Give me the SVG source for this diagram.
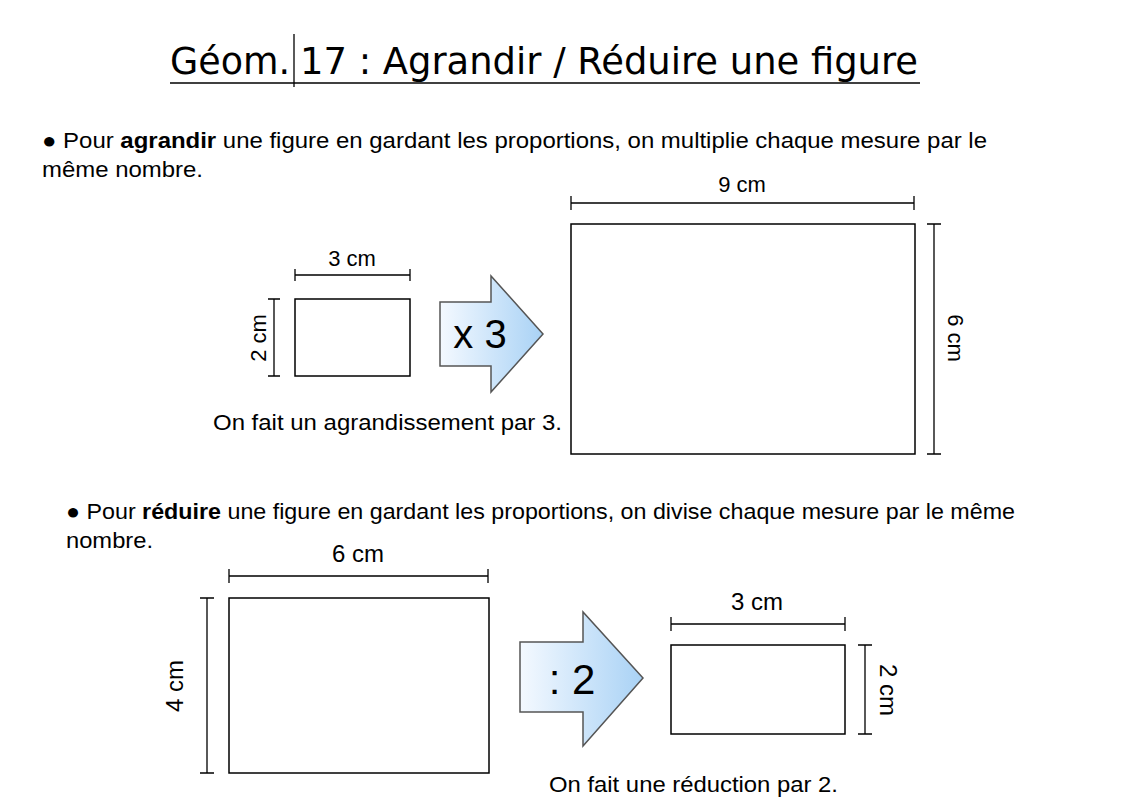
<svg xmlns="http://www.w3.org/2000/svg" width="1148" height="812" viewBox="0 0 1148 812">
<style>
text{font-family:"Liberation Sans",Arial,sans-serif;fill:#000}
.t{font-size:22px}
.ti{font-family:"Comic Sans MS","DejaVu Sans",sans-serif;font-size:38px}
.r{fill:#fff;stroke:#000;stroke-width:1.5}
.l{stroke:#000;stroke-width:1.3;fill:none}
.a{fill:url(#g);stroke:#555;stroke-width:1.5}
</style>
<defs>
<linearGradient id="g" x1="0" x2="1" y1="0" y2="0"><stop offset="0" stop-color="#f4f9ff"/><stop offset="1" stop-color="#a9d2f5"/></linearGradient>
</defs>
<rect width="1148" height="812" fill="#fff"/>
<g id="title">
<text class="ti" x="170" y="74" textLength="120" lengthAdjust="spacingAndGlyphs">Géom.</text>
<text class="ti" x="300" y="74" textLength="618" lengthAdjust="spacingAndGlyphs">17 : Agrandir / Réduire une figure</text>
<line x1="170" y1="83" x2="920" y2="83" class="l" stroke-width="2"/>
<line x1="294" y1="34" x2="294" y2="87" class="l" stroke-width="2"/>
</g>
<g id="text1">
<text class="t" x="42" y="148" textLength="945" lengthAdjust="spacingAndGlyphs">● Pour <tspan font-weight="bold">agrandir</tspan> une figure en gardant les proportions, on multiplie chaque mesure par le</text>
<text class="t" x="42" y="177" textLength="161" lengthAdjust="spacingAndGlyphs">même nombre.</text>
</g>
<g id="small1">
<rect class="r" x="295" y="299" width="115" height="77"/>
<path class="l" d="M295 275H410M295 269v12M410 269v12M274 299V376M268 299h12M268 376h12"/>
<text class="t" x="352" y="266" text-anchor="middle">3 cm</text>
<text class="t" transform="translate(266 338) rotate(-90)" text-anchor="middle">2 cm</text>
</g>
<g id="arrow1">
<path class="a" d="M440 302H491V276L543 334L491 392V366H440Z"/>
<text x="480" y="348" text-anchor="middle" font-size="40">x 3</text>
</g>
<text id="cap1" class="t" x="213" y="430" textLength="349" lengthAdjust="spacingAndGlyphs">On fait un agrandissement par 3.</text>
<g id="big1">
<rect class="r" x="571" y="224" width="344" height="230"/>
<path class="l" d="M571 203H914M571 196v14M914 196v14M934 224V454M927 224h14M927 454h14"/>
<text class="t" x="742" y="192" text-anchor="middle">9 cm</text>
<text class="t" transform="translate(948 338) rotate(90)" text-anchor="middle">6 cm</text>
</g>
<g id="text2">
<text class="t" x="66" y="519" textLength="949" lengthAdjust="spacingAndGlyphs">● Pour <tspan font-weight="bold">réduire</tspan> une figure en gardant les proportions, on divise chaque mesure par le même</text>
<text class="t" x="66" y="548" textLength="87" lengthAdjust="spacingAndGlyphs">nombre.</text>
</g>
<g id="big2">
<rect class="r" x="229" y="598" width="260" height="175"/>
<path class="l" d="M229 576H488M229 569v14M488 569v14M207 598V773M200 598h14M200 773h14"/>
<text x="358" y="562" text-anchor="middle" font-size="24">6 cm</text>
<text transform="translate(183 686) rotate(-90)" text-anchor="middle" font-size="24">4 cm</text>
</g>
<g id="arrow2">
<path class="a" d="M520 642H583V612L643 678L583 746V712H520Z"/>
<text x="572" y="694" text-anchor="middle" font-size="42">: 2</text>
</g>
<g id="small2">
<rect class="r" x="671" y="645" width="174" height="89"/>
<path class="l" d="M671 624H845M671 617v14M845 617v14M865 645V734M858 645h14M858 734h14"/>
<text x="757" y="610" text-anchor="middle" font-size="24">3 cm</text>
<text transform="translate(880 690) rotate(90)" text-anchor="middle" font-size="24">2 cm</text>
</g>
<text id="cap2" class="t" x="549" y="792" textLength="289" lengthAdjust="spacingAndGlyphs">On fait une réduction par 2.</text>
</svg>
